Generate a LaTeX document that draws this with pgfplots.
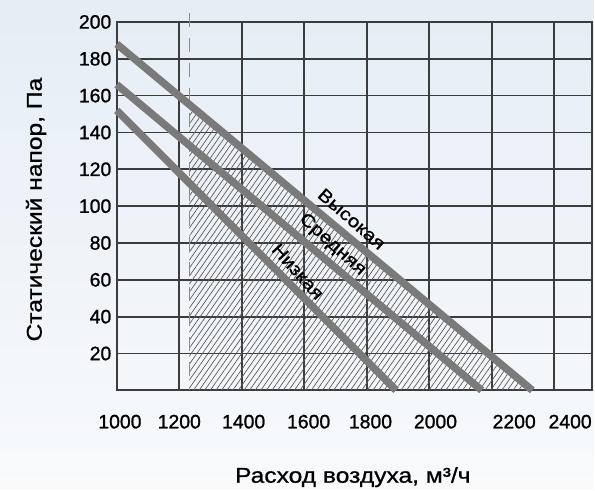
\documentclass[border=0pt]{standalone}
\usepackage{pgfplots}
\pgfplotsset{compat=1.18}
\usepackage{fontspec}
\setmainfont{Liberation Sans}
\newfontfamily\tickf{Liberation Sans}[FakeBold=1.1]
\newfontfamily\labf{Liberation Sans}[FakeStretch=1.15, FakeBold=0.9]
\usetikzlibrary{patterns.meta}
\definecolor{bgtop}{RGB}{229,237,245}
\definecolor{bgbot}{RGB}{248,250,252}
\definecolor{gridc}{RGB}{60,60,60}
\definecolor{curvec}{RGB}{122,122,122}
\definecolor{dashc}{RGB}{140,140,140}
\definecolor{hatchc}{RGB}{90,90,90}
\begin{document}
\begin{tikzpicture}
\shade[top color=bgtop, bottom color=bgbot] (-117bp,-99bp) rectangle (478bp,391bp);
\begin{axis}[
  at={(0,0)}, anchor=south west,
  scale only axis, width=476bp, height=369bp,
  xmin=1000, xmax=2521, ymin=0, ymax=200,
  xtick={1000,1200,...,2400}, xticklabels={},
  ytick={20,40,...,200},
  grid=major, grid style={gridc, line width=1.7bp},
  axis line style={gridc, line width=1.7bp},
  major tick length=0pt,
  tick label style={font=\tickf\fontsize{19.5}{22}\selectfont},
  /pgf/number format/assume math mode=true,
  /pgf/number format/1000 sep={},
  extra x ticks={1010,1200,1406,1614,1812,2020,2272,2451},
  extra x tick labels={1000,1200,1400,1600,1800,2000,2200,2400},
  extra x tick style={grid=none, major tick length=0pt, xticklabel style={yshift=-21bp}},
  yticklabel style={xshift=-2bp},
  xlabel={Расход воздуха, м³/ч},
  ylabel={Статический напор, Па},
  label style={font=\labf\fontsize{21.5}{24}\selectfont},
  xlabel style={at={(axis description cs:0.4968,-0.2358)}, anchor=center},
  ylabel style={at={(axis description cs:-0.170,0.4905)}, anchor=center},
  clip=false,
]
\addplot[draw=none, pattern={Lines[angle=55,distance=4.6bp,line width=0.7bp]}, pattern color=hatchc] coordinates {(1232,155.2) (2330,0)} \closedcycle;
\addplot[dashc, line width=1.5bp, dash pattern=on 14bp off 11bp] coordinates {(1232,205) (1232,0)};
\addplot[curvec, line width=7.5bp] coordinates {(1000,188) (2330,0)};
\addplot[curvec, line width=7.5bp] coordinates {(1000,166) (2168,0)};
\addplot[curvec, line width=7.5bp] coordinates {(1000,152) (1894,0)};
\node[rotate=-41, font=\labf\fontsize{18}{20}\selectfont] at (axis cs:1752,93) {Высокая};
\node[rotate=-42, font=\labf\fontsize{18}{20}\selectfont] at (axis cs:1690,79) {Средняя};
\node[rotate=-48, font=\labf\fontsize{18}{20}\selectfont] at (axis cs:1580,64.5) {Низкая};
\end{axis}
\end{tikzpicture}
\end{document}
